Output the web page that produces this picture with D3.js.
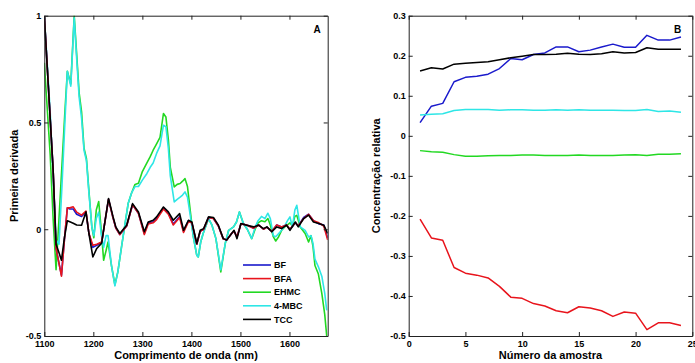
<!DOCTYPE html>
<html>
<head>
<meta charset="utf-8">
<script src="https://cdn.jsdelivr.net/npm/d3@7"></script>
<style>
  body { margin: 0; background: #fff; }
  svg { display: block; font-family: "Liberation Sans", Arial, sans-serif; font-weight: bold; }
  .tick text { font-size: 9px; font-weight: bold; }
</style>
</head>
<body>
<svg id="chart" width="695" height="363"></svg>
<script>
// ---- panel A : first derivative spectra ----
// TCC, BF and BFA share one set of wavelengths
var wlA = [1100, 1118, 1124, 1130, 1135, 1141, 1147, 1152, 1159, 1166, 1176, 1185, 1191, 1199, 1207,
           1217, 1224, 1231, 1240, 1246, 1254, 1268, 1280, 1292, 1304, 1312, 1322, 1329, 1343, 1353,
           1363, 1376, 1384, 1394, 1401, 1411, 1418, 1425, 1435, 1445, 1455, 1465, 1472, 1482, 1487,
           1493, 1501, 1513, 1527, 1537, 1547, 1554, 1564, 1574, 1584, 1594, 1601, 1612, 1618, 1629,
           1639, 1649, 1660, 1670, 1678];
var tcc = [1.0, 0.28, -0.07, -0.11, -0.145, -0.04, 0.04, 0.035, 0.028, 0.02, 0.019, 0.081, -0.02, -0.13, -0.09,
           -0.065, 0.04, 0.144, 0.06, 0.01, -0.02, 0.019, 0.12, 0.081, -0.012, 0.034, 0.042, 0.058, 0.104, 0.081,
           0.042, 0.073, -0.005, 0.042, 0.034, -0.067, -0.005, 0.003, 0.058, 0.055, 0.019, -0.044, -0.051, -0.02, -0.005,
           -0.044, 0.027, 0.019, 0.011, 0.019, 0.003, 0.011, -0.012, 0.011, 0.003, 0.019, -0.005, 0.034, 0.011, 0.05,
           0.066, 0.034, 0.027, 0.019, -0.02];
var bf  = [1.0, 0.28, -0.09, -0.16, -0.215, -0.05, 0.10, 0.095, 0.095, 0.07, 0.06, 0.081, -0.02, -0.085, -0.075,
           -0.06, 0.04, 0.14, 0.055, 0.005, -0.025, 0.015, 0.115, 0.075, -0.02, 0.03, 0.035, 0.05, 0.10, 0.075,
           0.025, 0.06, -0.01, 0.04, 0.03, -0.07, -0.01, 0.0, 0.055, 0.05, 0.015, -0.045, -0.05, -0.02, -0.01,
           -0.035, 0.025, 0.02, 0.005, 0.02, 0.0, 0.01, -0.01, 0.02, 0.01, 0.02, 0.0, 0.03, 0.015, 0.055,
           0.07, 0.04, 0.025, 0.02, -0.04];
var bfa = [1.0, 0.28, -0.09, -0.16, -0.22, -0.05, 0.10, 0.10, 0.105, 0.08, 0.066, 0.085, -0.02, -0.075, -0.07,
           -0.06, 0.04, 0.14, 0.055, 0.005, -0.025, 0.015, 0.115, 0.075, -0.025, 0.025, 0.03, 0.045, 0.095, 0.07,
           0.02, 0.055, -0.015, 0.035, 0.03, -0.07, -0.01, 0.0, 0.055, 0.05, 0.015, -0.045, -0.05, -0.02, -0.01,
           -0.035, 0.025, 0.02, 0.005, 0.02, 0.0, 0.01, -0.01, 0.02, 0.01, 0.02, 0.0, 0.03, 0.015, 0.05,
           0.07, 0.04, 0.03, 0.015, -0.05];
// EHMC and 4-MBC share another set
var wlB = [1100, 1112, 1118, 1124, 1130, 1136, 1142, 1147, 1154, 1161, 1166, 1171, 1176, 1181, 1186,
           1191, 1197, 1201, 1206, 1211, 1216, 1221, 1226, 1230, 1237, 1244, 1250, 1258, 1265, 1271,
           1278, 1285, 1292, 1300, 1309, 1316, 1322, 1329, 1336, 1343, 1348, 1353, 1357, 1365, 1371,
           1377, 1382, 1387, 1392, 1398, 1404, 1411, 1414, 1419, 1424, 1435, 1442, 1450, 1460, 1469,
           1476, 1486, 1492, 1498, 1506, 1514, 1523, 1530, 1536, 1543, 1550, 1556, 1561, 1567, 1572,
           1578, 1584, 1590, 1596, 1601, 1606, 1611, 1615, 1622, 1632, 1639, 1644, 1648, 1652, 1659,
           1666, 1672, 1676];
var ehmc = [0.78, 0.35, 0.05, -0.19, 0.05, 0.3, 0.55, 0.74, 0.68, 1.0, 0.82, 0.64, 0.55, 0.38, 0.33,
            0.18, 0.01, -0.04, 0.09, 0.13, 0.0, -0.145, -0.1, -0.06, -0.17, -0.26, -0.2, -0.075, 0.03, 0.12,
            0.17, 0.21, 0.215, 0.27, 0.31, 0.34, 0.37, 0.40, 0.43, 0.542, 0.526, 0.42, 0.29, 0.198, 0.21,
            0.214, 0.225, 0.237, 0.2, 0.08, -0.036, -0.122, -0.13, -0.06, -0.02, 0.05, 0.019, -0.044, -0.2, -0.067,
            -0.005, 0.011, 0.034, 0.081, 0.027, 0.0, -0.044, 0.0, 0.03, 0.04, 0.035, 0.05, 0.02, -0.035, -0.055,
            -0.035, -0.005, 0.01, 0.02, 0.03, 0.015, 0.06, 0.065, 0.01, -0.02, -0.06, -0.03, -0.08, -0.17, -0.21,
            -0.3, -0.4, -0.5];
var mbc  = [1.0, 0.55, 0.25, -0.05, -0.07, 0.2, 0.5, 0.74, 0.67, 0.99, 0.8, 0.62, 0.52, 0.37, 0.32,
            0.17, 0.01, -0.03, 0.05, 0.08, -0.02, -0.085, -0.03, -0.03, -0.17, -0.265, -0.2, -0.075, 0.03, 0.12,
            0.17, 0.2, 0.2, 0.23, 0.26, 0.29, 0.31, 0.355, 0.39, 0.487, 0.48, 0.38, 0.25, 0.128, 0.14,
            0.15, 0.16, 0.175, 0.15, 0.06, -0.036, -0.122, -0.13, -0.06, -0.02, 0.05, 0.019, -0.044, -0.19, -0.067,
            -0.005, 0.011, 0.034, 0.081, 0.027, 0.0, -0.044, 0.01, 0.04, 0.06, 0.05, 0.075, 0.05, -0.03, -0.035,
            -0.02, -0.005, 0.015, 0.04, 0.058, 0.01, 0.09, 0.112, 0.011, -0.005, -0.036, -0.03, -0.066, -0.14, -0.176,
            -0.22, -0.3, -0.38];

// ---- panel B : relative concentration per sample ----
var amostra  = [1, 2, 3, 4, 5, 6, 7, 8, 9, 10, 11, 12, 13, 14, 15, 16, 17, 18, 19, 20, 21, 22, 23, 24];
var concBF   = [0.033, 0.074, 0.081, 0.135, 0.146, 0.149, 0.154, 0.168, 0.193, 0.19, 0.203, 0.207,
                0.222, 0.222, 0.21, 0.214, 0.222, 0.229, 0.221, 0.221, 0.251, 0.239, 0.239, 0.247];
var concBFA  = [-0.208, -0.255, -0.261, -0.329, -0.343, -0.348, -0.355, -0.376, -0.403, -0.406, -0.419, -0.425,
                -0.437, -0.442, -0.427, -0.43, -0.437, -0.451, -0.44, -0.443, -0.484, -0.467, -0.467, -0.474];
var concEHMC = [-0.037, -0.040, -0.041, -0.047, -0.051, -0.051, -0.050, -0.049, -0.049, -0.048, -0.048, -0.049,
                -0.049, -0.049, -0.048, -0.049, -0.049, -0.049, -0.048, -0.047, -0.049, -0.046, -0.046, -0.045];
var concMBC  = [0.052, 0.054, 0.055, 0.063, 0.066, 0.066, 0.066, 0.064, 0.065, 0.065, 0.064, 0.064,
                0.065, 0.064, 0.065, 0.064, 0.064, 0.064, 0.063, 0.063, 0.066, 0.061, 0.062, 0.059];
var concTCC  = [0.162, 0.17, 0.167, 0.179, 0.181, 0.183, 0.185, 0.19, 0.195, 0.199, 0.203, 0.203,
                0.204, 0.206, 0.204, 0.203, 0.205, 0.21, 0.207, 0.208, 0.22, 0.216, 0.216, 0.216];

var seriesNames = ["BF", "BFA", "EHMC", "4-MBC", "TCC"];
var colors = {"BF": "#1a1acc", "BFA": "#e8141c", "EHMC": "#22d822", "4-MBC": "#2ee6e6", "TCC": "#000000"};

var ticksAx = [1100, 1200, 1300, 1400, 1500, 1600];
var ticksAy = [-0.5, 0, 0.5, 1];
var ticksBx = [0, 5, 10, 15, 20, 25];
var ticksBy = [-0.5, -0.4, -0.3, -0.2, -0.1, 0, 0.1, 0.2, 0.3];

var svg = d3.select("#chart");
svg.append("rect").attr("width", 695).attr("height", 363).attr("fill", "#fff");

function zip(xs, ys) {
    return xs.map(function (v, i) { return [v, ys[i]]; });
}

function drawPanel(o) {
    var x = d3.scaleLinear().domain(o.xDom).range([o.x0, o.x1]);
    var y = d3.scaleLinear().domain(o.yDom).range([o.y1, o.y0]);
    var g = svg.append("g");

    g.append("clipPath").attr("id", o.id + "clip")
      .append("rect")
      .attr("x", o.x0).attr("y", o.y0)
      .attr("width", o.x1 - o.x0).attr("height", o.y1 - o.y0);

    var line = d3.line()
        .x(function (d) { return x(d[0]); })
        .y(function (d) { return y(d[1]); });

    g.append("g").attr("clip-path", "url(#" + o.id + "clip)")
      .selectAll("path")
      .data(o.lines)
      .enter()
      .append("path")
      .attr("d", function (d) { return line(d.pts); })
      .attr("fill", "none")
      .attr("stroke", function (d) { return colors[d.name]; })
      .attr("stroke-width", o.lw)
      .attr("stroke-linejoin", "round");

    // box with inward ticks, like matlab
    g.append("g").attr("transform", "translate(0," + o.y1 + ")")
      .call(d3.axisBottom(x).tickValues(o.xTicks).tickSize(-4).tickSizeOuter(0).tickPadding(5)
            .tickFormat(function (d) { return String(d); }));
    g.append("g").attr("transform", "translate(0," + o.y0 + ")")
      .call(d3.axisTop(x).tickValues(o.xTicks).tickSize(-4).tickSizeOuter(0).tickFormat(""));
    g.append("g").attr("transform", "translate(" + o.x0 + ",0)")
      .call(d3.axisLeft(y).tickValues(o.yTicks).tickSize(-4).tickSizeOuter(0).tickPadding(3)
            .tickFormat(function (d) { return String(d); }));
    g.append("g").attr("transform", "translate(" + o.x1 + ",0)")
      .call(d3.axisRight(y).tickValues(o.yTicks).tickSize(-4).tickSizeOuter(0).tickFormat(""));

    g.selectAll(".domain").attr("stroke", "#222");
    g.selectAll(".tick line").attr("stroke", "#222");
    g.selectAll(".tick text").attr("fill", "#000").attr("font-family", null);

    g.append("text").attr("x", (o.x0 + o.x1) / 2).attr("y", 359)
      .attr("text-anchor", "middle").attr("font-size", 11).text(o.xLabel);
    g.append("text").attr("transform", "translate(" + o.yLabelX + "," + ((o.y0 + o.y1) / 2) + ") rotate(-90)")
      .attr("text-anchor", "middle").attr("font-size", 11).text(o.yLabel);
    g.append("text").attr("x", o.tagX).attr("y", 33)
      .attr("text-anchor", "middle").attr("font-size", 10).text(o.tag);

    return g;
}

var gA = drawPanel({
    id: "a", x0: 44.3, x1: 327.7, y0: 15.7, y1: 336,
    xDom: [1100, 1678], yDom: [-0.5, 1],
    xTicks: ticksAx, yTicks: ticksAy, lw: 1.6,
    xLabel: "Comprimento de onda (nm)", yLabel: "Primeira derivada",
    yLabelX: 18, tag: "A", tagX: 317,
    lines: [
        {name: "EHMC", pts: zip(wlB, ehmc)},
        {name: "4-MBC", pts: zip(wlB, mbc)},
        {name: "BF", pts: zip(wlA, bf)},
        {name: "BFA", pts: zip(wlA, bfa)},
        {name: "TCC", pts: zip(wlA, tcc)}
    ]
});

drawPanel({
    id: "b", x0: 408.7, x1: 692.3, y0: 15.7, y1: 336,
    xDom: [0, 25], yDom: [-0.5, 0.3],
    xTicks: ticksBx, yTicks: ticksBy, lw: 1.5,
    xLabel: "Número da amostra", yLabel: "Concentração relativa",
    yLabelX: 380, tag: "B", tagX: 677.5,
    lines: [
        {name: "BF", pts: zip(amostra, concBF)},
        {name: "TCC", pts: zip(amostra, concTCC)},
        {name: "4-MBC", pts: zip(amostra, concMBC)},
        {name: "EHMC", pts: zip(amostra, concEHMC)},
        {name: "BFA", pts: zip(amostra, concBFA)}
    ]
});

// legend of panel A
var leg = gA.append("g").selectAll("g")
    .data(seriesNames)
    .enter()
    .append("g")
    .attr("transform", function (d, i) { return "translate(243," + (265 + i * 13.6) + ")"; });
leg.append("line").attr("x1", 0).attr("x2", 28)
    .attr("stroke", function (d) { return colors[d]; }).attr("stroke-width", 1.6);
leg.append("text").attr("x", 31).attr("dy", "0.35em").attr("font-size", 9).text(function (d) { return d; });
</script>
</body>
</html>
